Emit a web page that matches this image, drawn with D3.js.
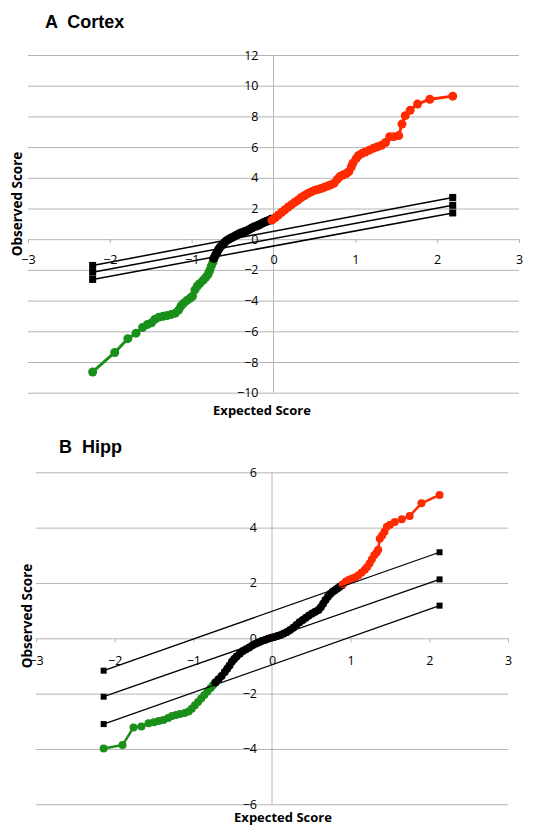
<!DOCTYPE html>
<html>
<head>
<meta charset="utf-8">
<script src="https://cdn.jsdelivr.net/npm/d3@7"></script>
<style>
  body { margin: 0; background: #fff; }
  svg { display: block; }
  .tick text { font-family: "Open Sans", sans-serif; font-size: 12.5px; fill: #000; }
</style>
</head>
<body>
<div id="container"></div>
<script>
/* CONSTANTS AND GLOBALS */
const width = 549;
const height = 826;

/* DATA */
const xTicks = [-3, -2, -1, 0, 1, 2, 3];
const cortexYTicks = [-10, -8, -6, -4, -2, 0, 2, 4, 6, 8, 10, 12];
const hippYTicks = [-6, -4, -2, 0, 2, 4, 6];

// Cortex: [expected, observed]
const cortexGreen = [[-2.21,-8.65],[-1.94,-7.38],[-1.78,-6.48],[-1.68,-6.12],[-1.60,-5.75],[-1.54,-5.55],[-1.49,-5.45],[-1.45,-5.22],[-1.40,-5.08],[-1.35,-5.02],[-1.30,-4.97],[-1.25,-4.90],[-1.20,-4.82],[-1.16,-4.62],[-1.13,-4.35],[-1.10,-4.18],[-1.06,-4.00],[-1.02,-3.85],[-0.99,-3.72],[-0.96,-3.30],[-0.93,-3.05],[-0.90,-2.88],[-0.86,-2.68],[-0.83,-2.50],[-0.80,-2.30],[-0.78,-2.05],[-0.76,-1.75],[-0.74,-1.50],[-0.73,-1.30]];
const cortexBlack = [[-0.73,-1.25],[-0.71,-1.05],[-0.69,-0.85],[-0.67,-0.65],[-0.65,-0.50],[-0.62,-0.35],[-0.60,-0.22],[-0.57,-0.08],[-0.54,0.02],[-0.51,0.10],[-0.48,0.18],[-0.45,0.27],[-0.42,0.35],[-0.39,0.42],[-0.36,0.48],[-0.33,0.54],[-0.30,0.62],[-0.27,0.72],[-0.24,0.80],[-0.21,0.86],[-0.18,0.92],[-0.15,1.00],[-0.12,1.08],[-0.09,1.15],[-0.06,1.22],[-0.03,1.30]];
const cortexRed = [[-0.02,1.24],[0.02,1.40],[0.06,1.58],[0.10,1.75],[0.14,1.92],[0.18,2.10],[0.22,2.25],[0.26,2.40],[0.30,2.55],[0.34,2.72],[0.38,2.85],[0.42,2.98],[0.46,3.08],[0.50,3.18],[0.54,3.24],[0.58,3.30],[0.62,3.38],[0.66,3.46],[0.70,3.54],[0.74,3.65],[0.78,3.90],[0.81,4.08],[0.85,4.18],[0.89,4.28],[0.92,4.40],[0.95,4.70],[0.97,4.95],[1.01,5.25],[1.04,5.45],[1.08,5.58],[1.12,5.68],[1.17,5.80],[1.22,5.92],[1.27,6.02],[1.32,6.12],[1.37,6.30],[1.42,6.68],[1.47,6.68],[1.53,6.75],[1.57,7.50],[1.61,8.05],[1.67,8.40],[1.76,8.80],[1.91,9.12],[2.19,9.32]];
const cortexRefLines = [
  [[-2.21,-1.71],[2.19,2.72]],
  [[-2.21,-2.15],[2.19,2.21]],
  [[-2.21,-2.62],[2.19,1.71]]
];

// Hipp: [expected, observed]
const hippGreen = [[-2.14,-3.98],[-1.90,-3.86],[-1.76,-3.22],[-1.66,-3.19],[-1.57,-3.07],[-1.50,-3.03],[-1.44,-2.99],[-1.38,-2.95],[-1.32,-2.88],[-1.27,-2.81],[-1.22,-2.77],[-1.17,-2.74],[-1.11,-2.70],[-1.06,-2.65],[-1.02,-2.55],[-0.98,-2.42],[-0.94,-2.30],[-0.90,-2.18],[-0.86,-2.05],[-0.82,-1.92],[-0.78,-1.80],[-0.75,-1.70],[-0.72,-1.60]];
const hippBlack = [[-0.72,-1.60],[-0.68,-1.48],[-0.64,-1.36],[-0.60,-1.22],[-0.57,-1.10],[-0.54,-0.98],[-0.51,-0.85],[-0.48,-0.75],[-0.45,-0.66],[-0.41,-0.56],[-0.37,-0.46],[-0.33,-0.40],[-0.29,-0.33],[-0.25,-0.26],[-0.21,-0.20],[-0.17,-0.15],[-0.13,-0.10],[-0.09,-0.06],[-0.05,-0.02],[-0.01,0.02],[0.03,0.05],[0.07,0.08],[0.11,0.12],[0.15,0.17],[0.19,0.23],[0.23,0.30],[0.27,0.38],[0.31,0.48],[0.35,0.58],[0.39,0.66],[0.43,0.74],[0.47,0.82],[0.51,0.90],[0.55,0.96],[0.59,1.02],[0.62,1.12],[0.65,1.25],[0.68,1.38],[0.71,1.50],[0.74,1.60],[0.77,1.68],[0.80,1.74],[0.83,1.80],[0.86,1.86],[0.89,1.92]];
const hippRed = [[0.90,1.95],[0.94,2.05],[0.98,2.12],[1.02,2.16],[1.06,2.21],[1.10,2.28],[1.14,2.38],[1.18,2.48],[1.21,2.58],[1.24,2.70],[1.27,2.86],[1.30,3.00],[1.33,3.10],[1.35,3.20],[1.37,3.60],[1.40,3.72],[1.43,3.85],[1.46,4.03],[1.50,4.10],[1.56,4.20],[1.65,4.30],[1.75,4.42],[1.90,4.88],[2.13,5.18]];
const hippRefLines = [
  [[-2.14,-1.17],[2.13,3.11]],
  [[-2.14,-2.11],[2.13,2.13]],
  [[-2.14,-3.10],[2.13,1.18]]
];

const RED = "#ff2a00";
const GREEN = "#1a8f1a";
const GRID = "#b4b4b4";

/* SVG */
const svg = d3.select("#container")
  .append("svg")
  .attr("width", width)
  .attr("height", height)

svg.append("rect").attr("width", width).attr("height", height).attr("fill", "#fff")

function drawPanel(opt) {
  const x = d3.scaleLinear().domain([-3, 3]).range(opt.xRange)
  const y = d3.scaleLinear().domain(opt.yDomain).range(opt.yRange)
  const g = svg.append("g")

  // horizontal gridlines
  g.append("g")
    .attr("transform", `translate(${x(-3)},0)`)
    .call(d3.axisLeft(y).tickValues(opt.yTicks).tickSize(-(x(3) - x(-3))).tickFormat(""))
    .call(a => a.select(".domain").remove())
    .selectAll("line").attr("stroke", GRID)

  // vertical axis line at x = 0
  g.append("line")
    .attr("x1", x(0)).attr("x2", x(0))
    .attr("y1", y(opt.yDomain[1])).attr("y2", y(opt.yDomain[0]))
    .attr("stroke", GRID)

  // y tick labels
  g.append("g")
    .attr("transform", `translate(${x(0)},0)`)
    .call(d3.axisLeft(y).tickValues(opt.yTicks).tickFormat(d3.format("d")).tickSize(0).tickPadding(15))
    .call(a => a.select(".domain").remove())

  // x axis ticks + labels along y = 0
  const xa = g.append("g")
    .attr("transform", `translate(0,${y(0)})`)
    .call(d3.axisBottom(x).tickValues(xTicks).tickFormat(d3.format("d")).tickSize(4).tickPadding(opt.xPad))
  xa.select(".domain").remove()
  xa.selectAll("line").attr("stroke", GRID)

  const line = d3.line().x(d => x(d[0])).y(d => y(d[1]))

  // observed series
  opt.series.forEach(s => {
    g.append("path")
      .datum(s.data)
      .attr("d", line)
      .attr("fill", "none")
      .attr("stroke", s.color)
      .attr("stroke-width", opt.lw)
      .attr("stroke-linejoin", "round")
    g.append("g")
      .selectAll("circle")
      .data(s.data)
      .join("circle")
      .attr("cx", d => x(d[0]))
      .attr("cy", d => y(d[1]))
      .attr("r", opt.r)
      .attr("fill", s.color)
  })

  // reference lines with square markers
  opt.refLines.forEach(r => {
    g.append("path")
      .datum(r)
      .attr("d", line)
      .attr("fill", "none")
      .attr("stroke", "#000")
      .attr("stroke-width", opt.refLw)
    g.append("g")
      .selectAll("rect")
      .data(r)
      .join("rect")
      .attr("x", d => x(d[0]) - opt.sq / 2)
      .attr("y", d => y(d[1]) - opt.sq / 2)
      .attr("width", opt.sq)
      .attr("height", opt.sq)
      .attr("fill", "#000")
  })

  // titles
  g.append("text")
    .attr("x", opt.title.x).attr("y", opt.title.y)
    .attr("font-family", "'Liberation Sans', Arial, sans-serif")
    .attr("font-weight", "bold")
    .attr("font-size", 18)
    .attr("xml:space", "preserve")
    .text(opt.title.text)

  g.append("text")
    .attr("transform", `translate(${opt.yLab[0]},${opt.yLab[1]}) rotate(-90)`)
    .attr("text-anchor", "middle")
    .attr("dy", "0.35em")
    .attr("font-family", "'Open Sans', sans-serif")
    .attr("font-weight", "bold")
    .attr("font-size", 13.5)
    .text("Observed Score")

  g.append("text")
    .attr("x", opt.xLab[0]).attr("y", opt.xLab[1])
    .attr("text-anchor", "middle")
    .attr("font-family", "'Open Sans', sans-serif")
    .attr("font-weight", "bold")
    .attr("font-size", 13)
    .text("Expected Score")
}

drawPanel({
  xRange: [28, 519],
  yDomain: [-10, 12],
  yRange: [392.7, 55],
  yTicks: cortexYTicks,
  xPad: 12,
  series: [
    { data: cortexGreen, color: GREEN },
    { data: cortexBlack, color: "#000" },
    { data: cortexRed, color: RED }
  ],
  refLines: cortexRefLines,
  lw: 3, r: 4.5, refLw: 1.5, sq: 7,
  title: { text: "A  Cortex", x: 45, y: 28 },
  yLab: [17.5, 204],
  xLab: [262, 415]
})

drawPanel({
  xRange: [36, 508],
  yDomain: [-6, 6],
  yRange: [804.3, 472.3],
  yTicks: hippYTicks,
  xPad: 14,
  series: [
    { data: hippGreen, color: GREEN },
    { data: hippBlack, color: "#000" },
    { data: hippRed, color: RED }
  ],
  refLines: hippRefLines,
  lw: 2.5, r: 4, refLw: 1.3, sq: 6,
  title: { text: "B  Hipp", x: 59, y: 453 },
  yLab: [27.5, 616],
  xLab: [283, 821.5]
})
</script>
</body>
</html>
